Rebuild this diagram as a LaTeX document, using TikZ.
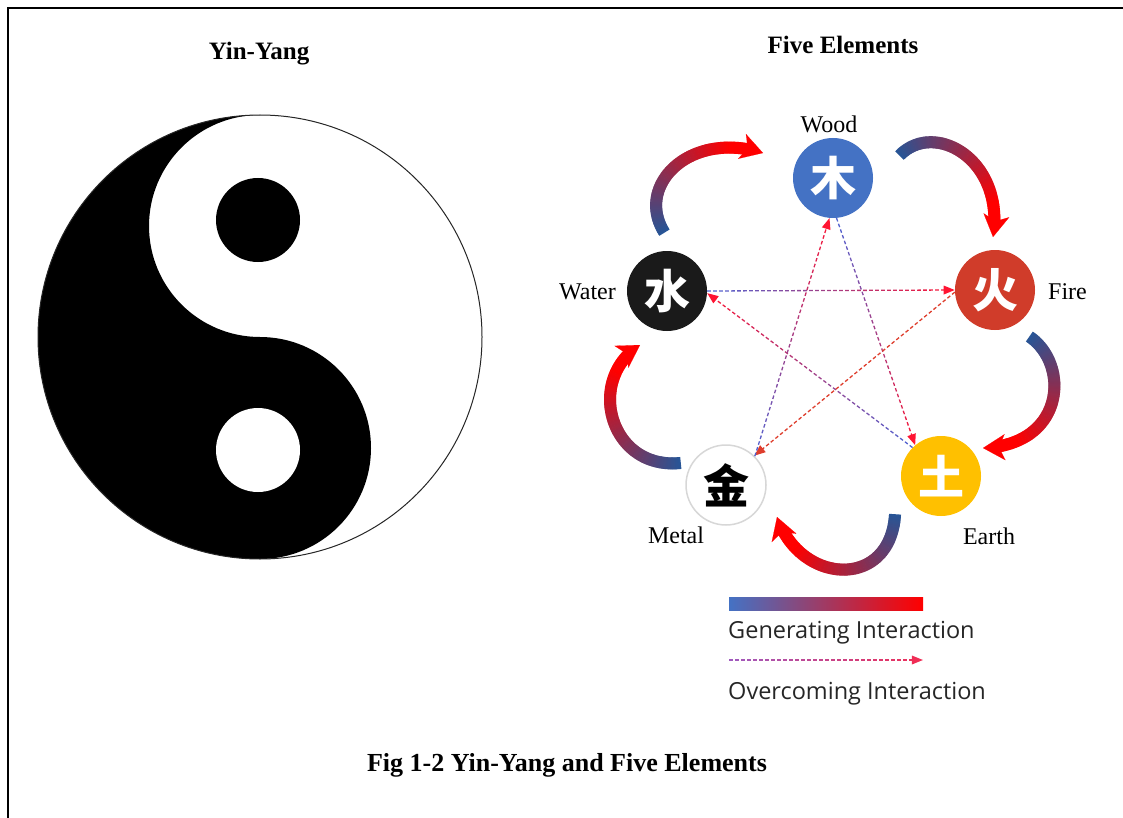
\documentclass[tikz,border=0pt]{standalone}
\usepackage{fontspec}
\setmainfont{Liberation Serif}
\newfontfamily\cjkfont{Noto Sans CJK SC}
\newfontfamily\legfont{Open Sans}
\usetikzlibrary{decorations.markings,calc,arrows.meta}
\definecolor{woodC}{RGB}{68,114,196}
\definecolor{fireC}{RGB}{208,60,42}
\definecolor{earthC}{RGB}{255,192,0}
\definecolor{waterC}{RGB}{26,26,26}
\definecolor{metalB}{RGB}{215,215,215}
\definecolor{gBlue}{RGB}{40,85,150}
\definecolor{gRed}{RGB}{255,0,0}
\definecolor{ocBlue}{RGB}{80,100,210}
\definecolor{ocRed}{RGB}{255,20,50}
\definecolor{fireDash}{RGB}{222,62,45}
\definecolor{legBlue}{RGB}{68,114,196}
\definecolor{legPurple}{RGB}{160,90,190}
\definecolor{legRed}{RGB}{240,45,85}
\tikzset{
  elem/.style={circle, minimum size=80pt, inner sep=0pt, font=\cjkfont\bfseries\fontsize{46}{46}\selectfont},
  lab/.style={font=\fontsize{24}{28}\selectfont, inner sep=0pt},
  headline/.style={font=\bfseries\fontsize{25}{30}\selectfont, inner sep=0pt, anchor=base},
  legtext/.style={font=\legfont\fontsize{23.5}{28}\selectfont, text=black!85, inner sep=0pt, anchor=base west},
  genarrow/.style={postaction={decorate,decoration={markings,
     mark=between positions 0 and -16pt step 1pt with {%
        \pgfmathtruncatemacro\gpc{min(100,115*(\pgfkeysvalueof{/pgf/decoration/mark info/distance from start}/(\pgfdecoratedpathlength-16)))}%
        \fill[color=gRed!\gpc!gBlue] (-0.8pt,-6pt) rectangle (0.8pt,6pt);}}}},
  genhead/.style={draw=gRed, fill=gRed, line width=0.1pt, -{Stealth[length=22pt, width=26pt, inset=6pt]}},
  ocline/.style 2 args={postaction={decorate,decoration={markings,
     mark=between positions 0 and -9pt step 6pt with {%
        \pgfmathtruncatemacro\ocpc{min(100,100*(\pgfkeysvalueof{/pgf/decoration/mark info/distance from start}/\pgfdecoratedpathlength))}%
        \draw[line width=1.3pt,color=#2!\ocpc!#1] (0pt,0pt) -- (3.6pt,0pt);},
     mark=at position -0.1pt with {\fill[#2] (0pt,0pt) -- (-11pt,4.5pt) -- (-11pt,-4.5pt) -- cycle;}}}},
}
\begin{document}
\begin{tikzpicture}[x=1pt,y=-1pt]
\useasboundingbox (0,0) rectangle (1123,818);
% frame
\draw[line width=2pt] (8,819) -- (8,8) -- (1124,8);

% ---------- Yin-Yang ----------
\node[headline] (yyt) at (259,60) {Yin-Yang};
\fill[white] (260,337) circle[radius=222];
\fill[black] (260,115) arc[start angle=270, end angle=90, radius=222]
   arc[start angle=90, end angle=-90, radius=111]
   arc[start angle=90, end angle=270, radius=111] -- cycle;
\fill[black] (258,220) circle[radius=42];
\fill[white] (258,450) circle[radius=42];
\draw[line width=1pt, black!85] (260,337) circle[radius=222];

% ---------- Five Elements ----------
\node[headline] (fet) at (843,54) {Five Elements};
\node[elem, fill=woodC, text=white] (wood) at (833,178) {木};
\node[elem, fill=fireC, text=white] (fire) at (995,290) {火};
\node[elem, fill=earthC, text=white] (earth) at (941,476) {土};
\node[elem, fill=white, draw=metalB, line width=1.5pt, text=black] (metal) at (726,485) {金};
\node[elem, fill=waterC, text=white] (water) at (667,291) {水};

\node[lab, anchor=base] (woodl) at (829,133) {Wood};
\node[lab, anchor=base east] (waterl) at (616,299) {Water};
\node[lab, anchor=base west] (firel) at (1048,299) {Fire};
\node[lab, anchor=base] (earthl) at (989,544) {Earth};
\node[lab, anchor=base] (metall) at (676,543) {Metal};

% generating interactions: tail, controls, tip
\coordinate (g1s) at ($(water)+(-3,-59)$);  \coordinate (g1a) at (635,185);  \coordinate (g1b) at (690,130);  \coordinate (g1e) at ($(wood)+(-70,-25)$);
\coordinate (g2s) at ($(wood)+(67,-23)$);   \coordinate (g2a) at (935,120);  \coordinate (g2b) at (1005,160); \coordinate (g2e) at ($(fire)+(-2,-53)$);
\coordinate (g3s) at ($(fire)+(35,47)$);    \coordinate (g3a) at (1070,365); \coordinate (g3b) at (1065,445); \coordinate (g3e) at ($(earth)+(42,-28)$);
\coordinate (g4s) at ($(earth)+(-46,39)$);  \coordinate (g4a) at (890,590);  \coordinate (g4b) at (800,585);  \coordinate (g4e) at ($(metal)+(51,32)$);
\coordinate (g5s) at ($(metal)+(-46,-22)$); \coordinate (g5a) at (610,470);  \coordinate (g5b) at (585,380);  \coordinate (g5e) at ($(water)+(-27,54)$);
\foreach \g in {g1,g2,g3,g4,g5}{
  \path[genarrow] (\g s) .. controls (\g a) and (\g b) .. (\g e);
  \draw[genhead] ($(\g e)!2pt!(\g b)$) -- (\g e);
}

% overcoming interactions
\path[ocline={ocBlue}{ocRed}] (water.east) -- (fire.west);
\path[ocline={ocBlue}{ocRed}] (wood.-85) -- (earth.130);
\path[ocline={ocBlue}{ocRed}] (earth.135) -- (water.-3);
\path[ocline={fireDash}{fireDash}] (fire.183) -- (metal.46);
\path[ocline={ocBlue}{ocRed}] (metal.45) -- (wood.265);

% legend
\shade[left color=legBlue, right color=red] (729,597) rectangle (923,610);
\node[legtext] (gentext) at (728,638) {Generating Interaction};
\coordinate (lgA) at (729,660);
\coordinate (lgB) at (923,660);
\path[ocline={legPurple}{legRed}] (lgA) -- (lgB);
\node[legtext] (octext) at (728,699) {Overcoming Interaction};

% caption
\node[headline, font=\bfseries\fontsize{26}{31}\selectfont] (cap) at (567,771) {Fig 1-2 Yin-Yang and Five Elements};
\end{tikzpicture}
\end{document}
